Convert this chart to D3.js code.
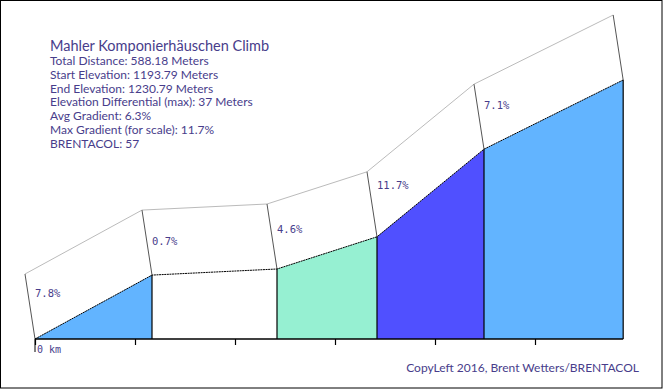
<!DOCTYPE html>
<html lang="en">
<head>
    <meta charset="UTF-8">
    <title>Mahler Komponierhäuschen Climb</title>
    <script src="https://d3js.org/d3.v7.min.js"></script>
    <style>
        body { margin: 0; background: #fff; }
        text { fill: #483d8b; }
    </style>
</head>
<body>
    <div id="chart"></div>

    <script>
        // distance from start (m) and elevation (m) at each segment break
        const distances = [0, 117, 242, 342, 449, 588.18];
        const elevations = [1193.79, 1202.92, 1203.79, 1208.39, 1220.91, 1230.79];
        const gradients = [7.8, 0.7, 4.6, 11.7, 7.1];
        const segColors = ["#62b4ff", "#ffffff", "#96f0d2", "#5050ff", "#62b4ff"];
        const tickValues = [0, 100, 200, 300, 400, 500];
        const infoLines = [
            "Total Distance: 588.18 Meters",
            "Start Elevation: 1193.79 Meters",
            "End Elevation: 1230.79 Meters",
            "Elevation Differential (max): 37 Meters",
            "Avg Gradient: 6.3%",
            "Max Gradient (for scale): 11.7%",
            "BRENTACOL: 57"
        ];
        const title = "Mahler Komponierhäuschen Climb";
        const credit = "CopyLeft 2016, Brent Wetters/BRENTACOL";

        var width = 663, height = 389;
        var depthX = -10, depthY = -65;   // fake 3d offset of the top ribbon

        var svg = d3.select("#chart")
            .append("svg")
            .attr("width", width)
            .attr("height", height);

        svg.append("rect")
            .attr("x", 0.5).attr("y", 0.5)
            .attr("width", width - 1.5).attr("height", height - 1.5)
            .attr("fill", "#fff")
            .attr("stroke", "#000");

        var x = d3.scaleLinear().domain([0, 588.18]).range([35, 623.18]);
        // 7 px per meter of climb
        var y = d3.scaleLinear().domain([1193.79, 1230.79]).range([339, 80]);

        var pts = distances.map(function(d, i) { return { x: x(d), y: y(elevations[i]) }; });

        var segs = gradients.map(function(g, i) { return { g: g, a: pts[i], b: pts[i + 1], c: segColors[i] }; });

        // ribbon on top (light gray outline)
        svg.append("path")
            .attr("d", d3.line()(pts.map(function(p) { return [p.x + depthX, p.y + depthY]; })))
            .attr("fill", "none")
            .attr("stroke", "#bbb");

        // filled segments
        svg.selectAll(".seg")
            .data(segs)
            .enter()
            .append("path")
            .attr("d", function(d) {
                return "M" + d.a.x + "," + y.range()[0] + "L" + d.a.x + "," + d.a.y +
                    "L" + d.b.x + "," + d.b.y + "L" + d.b.x + "," + y.range()[0] + "Z";
            })
            .attr("fill", function(d) { return d.c; })
            .attr("stroke", "none");

        // vertical bar edges
        svg.selectAll(".edge")
            .data(pts.slice(1))
            .enter()
            .append("line")
            .attr("x1", function(p) { return p.x; })
            .attr("x2", function(p) { return p.x; })
            .attr("y1", y.range()[0])
            .attr("y2", function(p) { return p.y; })
            .attr("stroke", "#000")
            .attr("stroke-width", 1.2);

        // ribbon side edges
        svg.selectAll(".side")
            .data(pts)
            .enter()
            .append("line")
            .attr("x1", function(p) { return p.x; })
            .attr("y1", function(p) { return p.y; })
            .attr("x2", function(p) { return p.x + depthX; })
            .attr("y2", function(p) { return p.y + depthY; })
            .attr("stroke", "#555");

        // profile line
        svg.append("path")
            .attr("d", d3.line()(pts.map(function(p) { return [p.x, p.y]; })))
            .attr("fill", "none")
            .attr("stroke", "#000")
            .attr("stroke-dasharray", "2,0.6");

        // gradient labels, placed along the slope
        svg.selectAll(".glabel")
            .data(segs)
            .enter()
            .append("text")
            .attr("x", function(d) { return d.a.x; })
            .attr("y", function(d) {
                var mid = d.a.y + depthY / 2;
                return mid - d.g / 100 * 24 * 7 + 4;
            })
            .style("font-family", "'DejaVu Sans Mono', monospace")
            .style("font-size", "10.5px")
            .text(function(d) { return d.g + "%"; });

        // axis
        var axis = svg.append("g")
            .attr("transform", "translate(0," + y.range()[0] + ")")
            .call(d3.axisBottom(x).tickValues(tickValues).tickSize(6).tickFormat(""));
        axis.select(".domain").attr("stroke", "#000").attr("stroke-width", 1.5)
            .attr("d", "M" + x(0) + ",0H" + x(588.18));
        axis.selectAll(".tick line").attr("stroke", "#000").attr("stroke-width", 1.2);

        svg.append("line")
            .attr("x1", x(0)).attr("x2", x(0))
            .attr("y1", y.range()[0]).attr("y2", y.range()[0] + 13)
            .attr("stroke", "#000");
        svg.append("text")
            .attr("x", x(0) + 2)
            .attr("y", y.range()[0] + 14)
            .style("font-family", "'DejaVu Sans Mono', monospace")
            .style("font-size", "10px")
            .text("0 km");

        // info block
        svg.append("text")
            .attr("x", 50).attr("y", 50.5)
            .style("font-family", "Lato, sans-serif")
            .style("font-size", "14.5px")
            .text(title);

        svg.selectAll(".info")
            .data(infoLines)
            .enter()
            .append("text")
            .attr("x", 50)
            .attr("y", function(d, i) { return 65 + i * 13.8; })
            .style("font-family", "Lato, sans-serif")
            .style("font-size", "12px")
            .text(function(d) { return d; });

        svg.append("text")
            .attr("x", 639).attr("y", 372)
            .attr("text-anchor", "end")
            .style("font-family", "Lato, sans-serif")
            .style("font-size", "12px")
            .text(credit);
    </script>
</body>
</html>
